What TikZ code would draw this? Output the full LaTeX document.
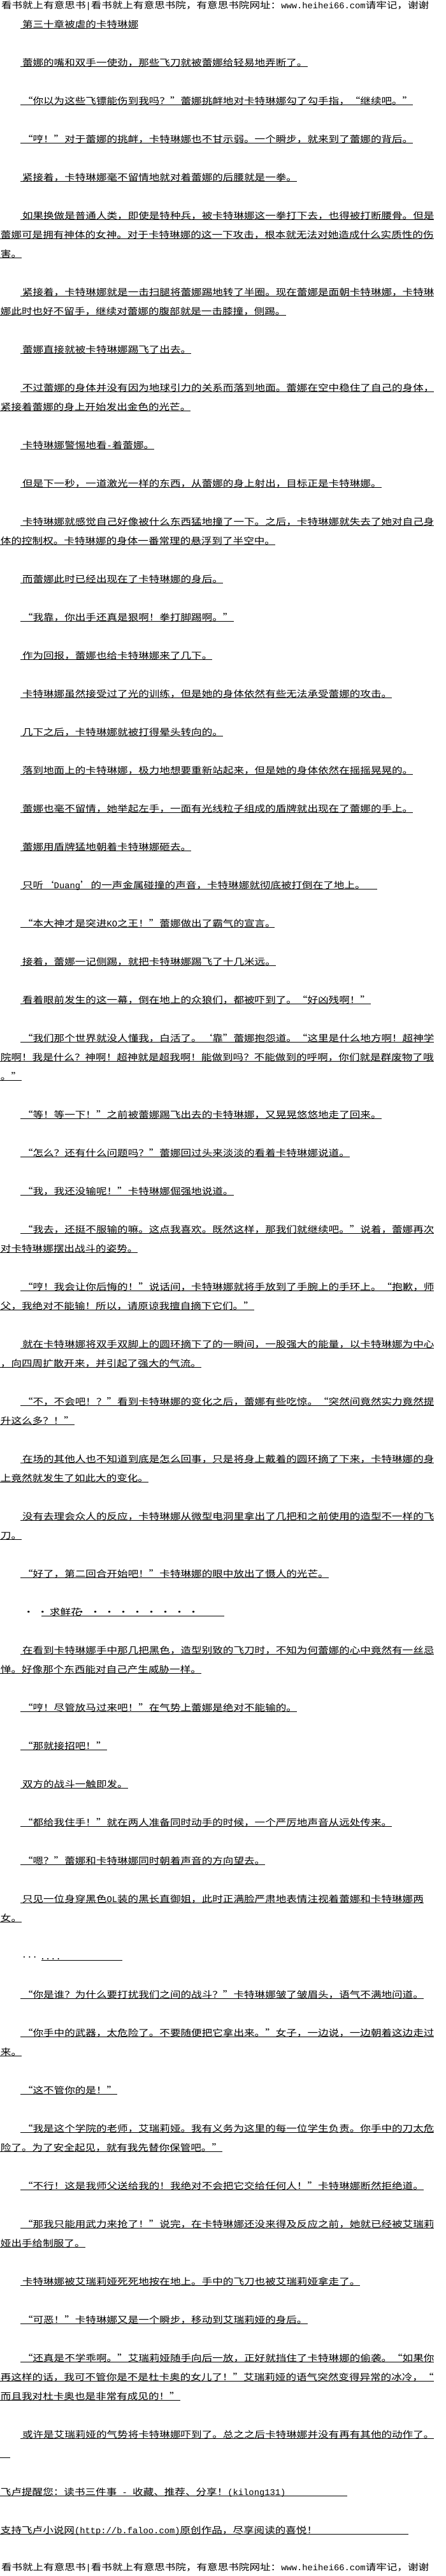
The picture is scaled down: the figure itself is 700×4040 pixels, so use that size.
\documentclass[tikz,border=0pt]{standalone}
\usepackage{fontspec}
\setmainfont[FakeStretch=1.184]{Noto Sans CJK SC}
\newfontfamily\monof{Liberation Mono}
\usetikzlibrary{calc}
\newcommand\lat[1]{{\monof\fontsize{13.8pt}{14pt}\selectfont#1}}
\newcommand\dt{\makebox[22pt][c]{·}}
% indented paragraph line: name, slot, text
\newcommand\tpara[3]{%
  \node[txt] (#1) at (35,{43.3+30*#2}) {#3};
  \draw[ul] ($(#1.base west)+(-3,1.5)$) -- ($(#1.base east)+(0,1.5)$);}
% continuation line: name, slot, text
\newcommand\tcont[3]{%
  \node[txt] (#1) at (1,{43.3+30*#2}) {#3};
  \draw[ul] ($(#1.base west)+(-1,1.5)$) -- ($(#1.base east)+(0,1.5)$);}
% indented line with underline end x: name, slot, endx, text
\newcommand\tparx[4]{%
  \node[txt] (#1) at (35,{43.3+30*#2}) {#4};
  \coordinate (#1e) at (#3,{44.8+30*#2});
  \draw[ul] ($(#1.base west)+(-3,1.5)$) -- (#1e);}
% continuation line with underline end x
\newcommand\tcontx[4]{%
  \node[txt] (#1) at (1,{43.3+30*#2}) {#4};
  \coordinate (#1e) at (#3,{44.8+30*#2});
  \draw[ul] ($(#1.base west)+(-1,1.5)$) -- (#1e);}
\tikzset{
  txt/.style={anchor=base west, inner sep=0pt, outer sep=0pt, text=black,
    font=\fontsize{14pt}{16pt}\selectfont},
  ul/.style={draw=black, line width=0.9pt}
}
\begin{document}
\begin{tikzpicture}[x=1pt,y=-1pt]
\useasboundingbox (0,0) rectangle (700,4040);
\fill[white] (0,0) rectangle (700,4040);

\node[txt] (hdr) at (2,13.3) {看书就上有意思书\lat{|}看书就上有意思书院，有意思书院网址：\lat{www.heihei66.com}请牢记，谢谢};

\tpara{t0}{0}{第三十章被虐的卡特琳娜}
\tpara{p1}{2}{蕾娜的嘴和双手一使劲，那些飞刀就被蕾娜给轻易地弄断了。}
\tpara{p2}{4}{“你以为这些飞镖能伤到我吗？”蕾娜挑衅地对卡特琳娜勾了勾手指，“继续吧。”}
\tpara{p3}{6}{“哼！”对于蕾娜的挑衅，卡特琳娜也不甘示弱。一个瞬步，就来到了蕾娜的背后。}
\tpara{p4}{8}{紧接着，卡特琳娜毫不留情地就对着蕾娜的后腰就是一拳。}
\tpara{p5a}{10}{如果换做是普通人类，即使是特种兵，被卡特琳娜这一拳打下去，也得被打断腰骨。但是}
\tcont{p5b}{11}{蕾娜可是拥有神体的女神。对于卡特琳娜的这一下攻击，根本就无法对她造成什么实质性的伤}
\tcont{p5c}{12}{害。}
\tpara{p6a}{14}{紧接着，卡特琳娜就是一击扫腿将蕾娜踢地转了半圈。现在蕾娜是面朝卡特琳娜，卡特琳}
\tcont{p6b}{15}{娜此时也好不留手，继续对蕾娜的腹部就是一击膝撞，侧踢。}
\tpara{p7}{17}{蕾娜直接就被卡特琳娜踢飞了出去。}
\tpara{p8a}{19}{不过蕾娜的身体并没有因为地球引力的关系而落到地面。蕾娜在空中稳住了自己的身体，}
\tcont{p8b}{20}{紧接着蕾娜的身上开始发出金色的光芒。}
\tpara{p9}{22}{卡特琳娜警惕地看\lat{-}着蕾娜。}
\tpara{p10}{24}{但是下一秒，一道激光一样的东西，从蕾娜的身上射出，目标正是卡特琳娜。}
\tpara{p11a}{26}{卡特琳娜就感觉自己好像被什么东西猛地撞了一下。之后，卡特琳娜就失去了她对自己身}
\tcont{p11b}{27}{体的控制权。卡特琳娜的身体一番常理的悬浮到了半空中。}
\tpara{p12}{29}{而蕾娜此时已经出现在了卡特琳娜的身后。}
\tpara{p13}{31}{“我靠，你出手还真是狠啊！拳打脚踢啊。”}
\tpara{p14}{33}{作为回报，蕾娜也给卡特琳娜来了几下。}
\tpara{p15}{35}{卡特琳娜虽然接受过了光的训练，但是她的身体依然有些无法承受蕾娜的攻击。}
\tpara{p16}{37}{几下之后，卡特琳娜就被打得晕头转向的。}
\tpara{p17}{39}{落到地面上的卡特琳娜，极力地想要重新站起来，但是她的身体依然在摇摇晃晃的。}
\tpara{p18}{41}{蕾娜也毫不留情，她举起左手，一面有光线粒子组成的盾牌就出现在了蕾娜的手上。}
\tpara{p19}{43}{蕾娜用盾牌猛地朝着卡特琳娜砸去。}
\tparx{p20}{45}{592}{只听‘\lat{Duang}’的一声金属碰撞的声音，卡特琳娜就彻底被打倒在了地上。}
\tparx{p21}{47}{431}{“本大神才是突进\lat{KO}之王！”蕾娜做出了霸气的宣言。}
\tpara{p22}{49}{接着，蕾娜一记侧踢，就把卡特琳娜踢飞了十几米远。}
\tpara{p23}{51}{看着眼前发生的这一幕，倒在地上的众狼们，都被吓到了。“好凶残啊！”}
\tpara{p24a}{53}{“我们那个世界就没人懂我，白活了。‘靠”蕾娜抱怨道。“这里是什么地方啊！超神学}
\tcont{p24b}{54}{院啊！我是什么？神啊！超神就是超我啊！能做到吗？不能做到的呼啊，你们就是群废物了哦}
\tcont{p24c}{55}{。”}
\tpara{p25}{57}{“等！等一下！”之前被蕾娜踢飞出去的卡特琳娜，又晃晃悠悠地走了回来。}
\tpara{p26}{59}{“怎么？还有什么问题吗？”蕾娜回过头来淡淡的看着卡特琳娜说道。}
\tpara{p27}{61}{“我，我还没输呢！”卡特琳娜倔强地说道。}
\tpara{p28a}{63}{“我去，还挺不服输的嘛。这点我喜欢。既然这样，那我们就继续吧。”说着，蕾娜再次}
\tcont{p28b}{64}{对卡特琳娜摆出战斗的姿势。}
\tpara{p29a}{66}{“哼！我会让你后悔的！”说话间，卡特琳娜就将手放到了手腕上的手环上。“抱歉，师}
\tcont{p29b}{67}{父，我绝对不能输！所以，请原谅我擅自摘下它们。”}
\tpara{p30a}{69}{就在卡特琳娜将双手双脚上的圆环摘下了的一瞬间，一股强大的能量，以卡特琳娜为中心}
\tcont{p30b}{70}{，向四周扩散开来，并引起了强大的气流。}
\tpara{p31a}{72}{“不，不会吧！？”看到卡特琳娜的变化之后，蕾娜有些吃惊。“突然间竟然实力竟然提}
\tcont{p31b}{73}{升这么多？！”}
\tpara{p32a}{75}{在场的其他人也不知道到底是怎么回事，只是将身上戴着的圆环摘了下来，卡特琳娜的身}
\tcont{p32b}{76}{上竟然就发生了如此大的变化。}
\tpara{p33a}{78}{没有去理会众人的反应，卡特琳娜从微型电洞里拿出了几把和之前使用的造型不一样的飞}
\tcont{p33b}{79}{刀。}
\tpara{p34}{81}{“好了，第二回合开始吧！”卡特琳娜的眼中放出了慑人的光芒。}
\node[txt] (p35) at (34,{43.3+30*83}) {\dt\dt 求鲜花\hspace{-11pt}\dt\dt\dt\dt\dt\dt\dt\dt\dt};
\coordinate (p35s) at (65,{44.8+30*83});
\coordinate (p35e) at (352,{44.8+30*83});
\draw[ul] (p35s) -- (p35e);
\tpara{p36a}{85}{在看到卡特琳娜手中那几把黑色，造型别致的飞刀时，不知为何蕾娜的心中竟然有一丝忌}
\tcont{p36b}{86}{惮。好像那个东西能对自己产生威胁一样。}
\tpara{p37}{88}{“哼！尽管放马过来吧！”在气势上蕾娜是绝对不能输的。}
\tpara{p38}{90}{“那就接招吧！”}
\tpara{p39}{92}{双方的战斗一触即发。}
\tpara{p40}{94}{“都给我住手！”就在两人准备同时动手的时候，一个严厉地声音从远处传来。}
\tpara{p41}{96}{“嗯？”蕾娜和卡特琳娜同时朝着声音的方向望去。}
\tpara{p42a}{98}{只见一位身穿黑色\lat{OL}装的黑长直御姐，此时正满脸严肃地表情注视着蕾娜和卡特琳娜两}
\tcont{p42b}{99}{女。}
\node[txt] (p43) at (34,{43.3+30*101}) {\lat{···\hspace{4pt}....}};
\coordinate (p43s) at (65,{44.8+30*101});
\coordinate (p43e) at (192,{44.8+30*101});
\draw[ul] (p43s) -- (p43e);
\tpara{p44}{103}{“你是谁？为什么要打扰我们之间的战斗？”卡特琳娜皱了皱眉头，语气不满地问道。}
\tpara{p45a}{105}{“你手中的武器，太危险了。不要随便把它拿出来。”女子，一边说，一边朝着这边走过}
\tcont{p45b}{106}{来。}
\tpara{p46}{108}{“这不管你的是！”}
\tpara{p47a}{110}{“我是这个学院的老师，艾瑞莉娅。我有义务为这里的每一位学生负责。你手中的刀太危}
\tcont{p47b}{111}{险了。为了安全起见，就有我先替你保管吧。”}
\tpara{p48}{113}{“不行！这是我师父送给我的！我绝对不会把它交给任何人！”卡特琳娜断然拒绝道。}
\tpara{p49a}{115}{“那我只能用武力来抢了！”说完，在卡特琳娜还没来得及反应之前，她就已经被艾瑞莉}
\tcont{p49b}{116}{娅出手给制服了。}
\tpara{p50}{118}{卡特琳娜被艾瑞莉娅死死地按在地上。手中的飞刀也被艾瑞莉娅拿走了。}
\tpara{p51}{120}{“可恶！”卡特琳娜又是一个瞬步，移动到艾瑞莉娅的身后。}
\tpara{p52a}{122}{“还真是不学乖啊。”艾瑞莉娅随手向后一放，正好就挡住了卡特琳娜的偷袭。“如果你}
\tcont{p52b}{123}{再这样的话，我可不管你是不是杜卡奥的女儿了！”艾瑞莉娅的语气突然变得异常的冰冷，“}
\tcont{p52c}{124}{而且我对杜卡奥也是非常有成见的！”}
\tpara{p53}{126}{或许是艾瑞莉娅的气势将卡特琳娜吓到了。总之之后卡特琳娜并没有再有其他的动作了。}
\tcontx{blank}{127}{16}{\hspace*{14pt}}
\tcontx{fl1}{129}{545}{飞卢提醒您：读书三件事\lat{ - }收藏、推荐、分享！\lat{(kilong131)}}
\tcontx{fl2}{131}{641}{支持飞卢小说网\lat{(http://b.faloo.com)}原创作品，尽享阅读的喜悦！}

\node[txt] (ftr) at (2,4031) {看书就上有意思书\lat{|}看书就上有意思书院，有意思书院网址：\lat{www.heihei66.com}请牢记，谢谢};
\end{tikzpicture}
\end{document}
